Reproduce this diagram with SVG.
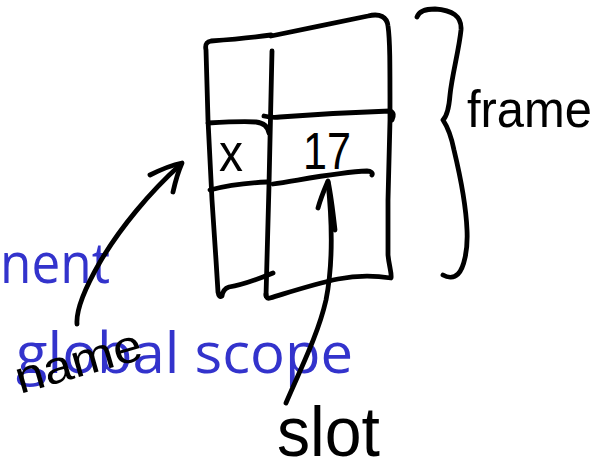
<svg xmlns="http://www.w3.org/2000/svg" width="613" height="470" viewBox="0 0 613 470">
  <style>
    .ink { fill: none; stroke: #000; stroke-width: 4.8; stroke-linecap: round; stroke-linejoin: round; }
    .hand { font-family: "Liberation Sans", "DejaVu Sans", sans-serif; fill: #000; }
    .caption { font-family: "Open Sans", "Liberation Sans", sans-serif; font-size: 57px; fill: #3333cc; }
  </style>

  <!-- background captions -->
  <g id="captions">
    <text class="caption" x="0" y="283" textLength="110" lengthAdjust="spacingAndGlyphs">nent</text>
    <text class="caption" x="16" y="373" textLength="337" lengthAdjust="spacingAndGlyphs">global scope</text>
  </g>

  <!-- the frame: two columns split into rows -->
  <g id="frame-table">
    <path class="ink" d="M271,35 C250,38 225,40 211,41 C206,42 205,45 206,50 L208,120 L212,200 L216,260 L218,292 Q219,298 222,296 Q223,289 229,287 C242,285 256,280 273,273"/>
    <path class="ink" d="M271,36 C300,30 340,22 368,16 C380,13 387,17 388,26 C390,40 390,60 390,120 L388,200 L388,255 C389,266 392,274 391,278 C378,276 358,275 338,279 C314,284 290,292 270,298 C267,299 266,297 266,294"/>
    <path class="ink" d="M272,51 C271,120 268,220 266,296"/>
    <path class="ink" d="M208,123 C225,122 245,121 256,122 C264,123 268,127 269,133"/>
    <path class="ink" d="M264,116 C268,117 272,118 280,117 C320,114 360,112 390,111 C394,112 394,116 392,120"/>
    <path class="ink" d="M210,190 C225,186 245,183 267,182"/>
    <path class="ink" d="M273,184 C300,180 340,172 367,171 C371,171 373,173 372,175"/>
    <text class="hand" x="219" y="171" font-size="54" textLength="24" lengthAdjust="spacingAndGlyphs">x</text>
    <text class="hand" x="303" y="169" font-size="52" textLength="48" lengthAdjust="spacingAndGlyphs">17</text>
  </g>

  <!-- brace and its label -->
  <g id="frame-brace">
    <path class="ink" d="M417,17 C419,11 425,9 435,9 C452,10 462,16 461,30 C459,50 452,75 450,95 C449,108 447,116 443,120 C447,126 451,135 454,150 C460,175 466,205 467,230 C468,250 464,268 458,274 C454,278 448,278 443,275"/>
    <text class="hand" x="467" y="127" font-size="52" textLength="125" lengthAdjust="spacingAndGlyphs">frame</text>
  </g>

  <g id="name-label">
    <text class="hand" x="20" y="394" font-size="46" textLength="130" lengthAdjust="spacingAndGlyphs" transform="rotate(-16 20 394)">name</text>
  </g>

  <g id="slot-label">
    <text class="hand" x="277" y="456" font-size="70" textLength="103" lengthAdjust="spacingAndGlyphs">slot</text>
  </g>

  <!-- pointer arrows -->
  <g id="connectors">
    <path class="ink" d="M77,324 C76,310 85,288 100,262 C120,228 150,192 180,165"/>
    <path class="ink" d="M150,175 C160,170 172,165 182,163 C178,172 175,183 173,192"/>
    <path class="ink" d="M286,403 C300,370 318,335 326,300 C332,270 333,230 328,182"/>
    <path class="ink" d="M318,208 C321,197 325,188 328,181 C331,195 333,212 335,230"/>
  </g>
</svg>
